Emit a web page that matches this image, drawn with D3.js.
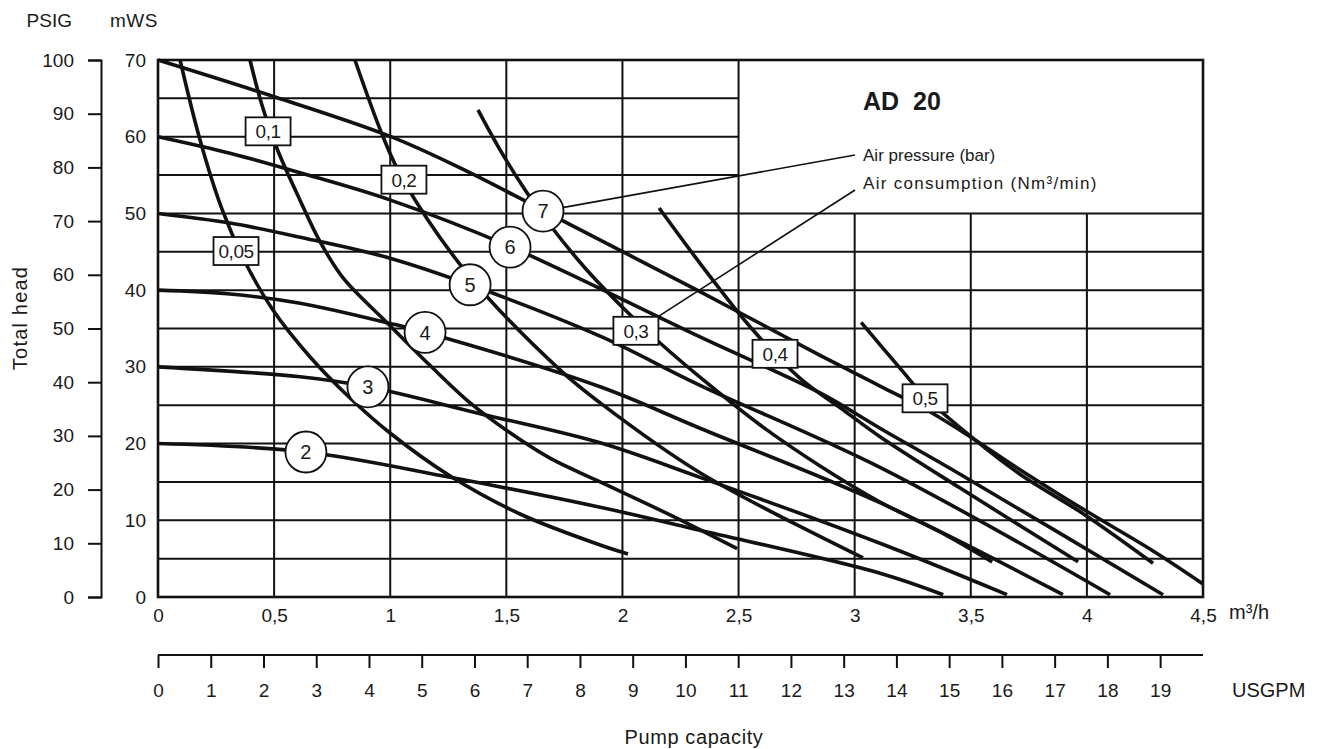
<!DOCTYPE html>
<html><head><meta charset="utf-8">
<script src="https://cdn.jsdelivr.net/npm/d3@7"></script>
<style>
body{margin:0;background:#fff;}
svg text{font-family:"Liberation Sans",Arial,Helvetica,sans-serif;fill:#1a1a1a;}
</style>
</head><body>
<svg id="chart" width="1325" height="749"></svg>
<script>
// ---------- DATA ----------
const mwsTicks = [0, 10, 20, 30, 40, 50, 60, 70];
const psigTicks = [0, 10, 20, 30, 40, 50, 60, 70, 80, 90, 100];
const flowTicks = [0, 0.5, 1, 1.5, 2, 2.5, 3, 3.5, 4, 4.5];
const flowTickLabels = ["0", "0,5", "1", "1,5", "2", "2,5", "3", "3,5", "4", "4,5"];
const gpmTicks = [0,1,2,3,4,5,6,7,8,9,10,11,12,13,14,15,16,17,18,19];

// Air pressure curves (bar): [capacity m3/h, head mWS]
const pressureNames = ["2", "3", "4", "5", "6", "7"];
const curveP2 = [[0,20],[0.637,18.9],[1.258,15.6],[1.904,11.7],[2.334,8.7],[3.109,3.1],[3.381,0.3]];
const curveP3 = [[0,30],[0.612,28.7],[0.904,27.4],[1.387,23.9],[1.904,20.1],[2.334,15.6],[3.109,7.0],[3.656,0.3]];
const curveP4 = [[0,40],[0.310,39.5],[0.612,38.3],[0.995,35.7],[1.150,34.5],[1.904,27.4],[2.334,22.0],[3.109,12.3],[3.897,0.3]];
const curveP5 = [[0,50],[0.310,48.75],[0.612,46.9],[0.995,44.2],[1.344,40.7],[1.904,34.0],[2.334,27.6],[3.109,16.9],[4.10,0.3]];
const curveP6 = [[0,60],[0.310,57.85],[0.612,55.3],[0.995,51.8],[1.507,45.8],[2.334,33.9],[2.851,26.6],[3.109,22.0],[3.454,16.0],[4.328,0.3]];
const curveP7 = [[0,70],[0.504,65.18],[0.995,60.1],[1.301,55.93],[1.581,51.62],[1.744,49.02],[2.334,39.8],[2.851,31.5],[3.109,27.5],[3.303,24.5],[3.497,20.9],[3.712,16.6],[3.992,11.3],[4.285,6.0],[4.5,1.7]];
const pressureLabelAt = [[0.637,18.9],[0.904,27.4],[1.150,34.5],[1.344,40.7],[1.516,45.6],[1.658,50.3]];

// Air consumption curves (Nm3/min)
const airNames = ["0,05", "0,1", "0,2", "0,3", "0,4", "0,5"];
const curveA005 = [[0.095,70],[0.181,59.58],[0.276,50.52],[0.375,43.67],[0.495,37.41],[0.655,31.29],[0.827,25.94],[0.999,21.38],[1.258,15.77],[1.559,10.82],[1.904,6.78],[2.024,5.61]];
const curveA01 = [[0.396,70],[0.448,64.1],[0.512,58.5],[0.612,51.7],[0.698,46.3],[0.797,41.6],[0.995,35.5],[1.171,30.2],[1.344,25.3],[1.516,21.4],[1.688,18.1],[1.904,15.0],[2.205,10.7],[2.494,6.3]];
const curveA02 = [[0.848,70],[0.969,60.0],[1.055,54.4],[1.331,42.2],[1.731,29.6],[1.904,25.3],[2.334,16.2],[3.036,5.1]];
const curveA03 = [[1.378,63.49],[1.473,58.28],[1.581,53.06],[1.688,48.49],[1.839,42.89],[1.990,38.07],[2.162,33.11],[2.364,27.90],[2.593,22.42],[2.851,17.08],[3.109,12.38],[3.368,8.47],[3.592,4.56]];
const curveA04 = [[2.158,50.7],[2.334,43.5],[2.562,34.8],[2.765,28.5],[2.950,24.4],[3.109,20.9],[3.454,14.2],[3.962,4.6]];
const curveA05 = [[3.028,35.8],[3.196,29.8],[3.303,26.1],[3.497,21.0],[3.712,16.0],[3.992,10.7],[4.285,4.4]];
const airLabelAt = [[0.336,45.1],[0.474,60.7],[1.059,54.4],[2.058,34.7],[2.657,31.7],[3.303,25.9]];

const pressureCurves = [curveP2, curveP3, curveP4, curveP5, curveP6, curveP7];
const airCurves = [curveA005, curveA01, curveA02, curveA03, curveA04, curveA05];

// ---------- SCALES ----------
const svg = d3.select("#chart");
const x = d3.scaleLinear().domain([0, 4.5]).range([158, 1203]);
const y = d3.scaleLinear().domain([0, 70]).range([597, 60]);
const yPsi = d3.scaleLinear().domain([0, 100]).range([597, 60]);
const GPM_TO_M3H = 0.227125;
const xGpm = d3.scaleLinear().domain([0, 4.5 / GPM_TO_M3H]).range([158, 1203]);
const ink = "#111";

// ---------- GRID ----------
const grid = svg.append("g").attr("stroke", ink).attr("stroke-width", 2);
d3.range(5, 70, 5).forEach(v => {
  grid.append("line").attr("x1", x(0)).attr("x2", v > 50 ? x(2.5) : x(4.5))
    .attr("y1", y(v)).attr("y2", y(v));
});
flowTicks.slice(1, -1).forEach(v => {
  grid.append("line").attr("x1", x(v)).attr("x2", x(v))
    .attr("y1", y(0)).attr("y2", v > 2.5 ? y(50) : y(70));
});
svg.append("rect").attr("x", x(0)).attr("y", y(70)).attr("width", x(4.5) - x(0)).attr("height", y(0) - y(70))
  .attr("fill", "none").attr("stroke", ink).attr("stroke-width", 2.6);

// ---------- CURVES ----------
const line = d3.line().x(d => x(d[0])).y(d => y(d[1])).curve(d3.curveCatmullRom.alpha(0.5));
const curvesG = svg.append("g").attr("fill", "none").attr("stroke", ink).attr("stroke-width", 3.6).attr("stroke-linecap", "butt");
pressureCurves.forEach(c => curvesG.append("path").attr("d", line(c)));
airCurves.forEach(c => curvesG.append("path").attr("d", line(c)));

// ---------- LEGEND / LEADERS ----------
const legX = x(3.036);
svg.append("text").attr("x", legX).attr("y", 110).attr("font-size", 25).attr("font-weight", "bold")
  .style("white-space", "pre").text("AD  20");
svg.append("text").attr("x", legX).attr("y", 161).attr("font-size", 17).text("Air pressure (bar)");
svg.append("text").attr("x", legX).attr("y", 189).attr("font-size", 17).attr("letter-spacing", 1.3).text("Air consumption (Nm³/min)");
const leaders = svg.append("g").attr("stroke", ink).attr("stroke-width", 1.6);
leaders.append("line").attr("x1", x(pressureLabelAt[5][0])).attr("y1", y(pressureLabelAt[5][1]))
  .attr("x2", legX - 8).attr("y2", 155);
leaders.append("line").attr("x1", x(airLabelAt[3][0])).attr("y1", y(airLabelAt[3][1]))
  .attr("x2", legX - 8).attr("y2", 190);

// ---------- LABELS ON CURVES ----------
const pl = svg.append("g");
pressureLabelAt.forEach((p, i) => {
  const g = pl.append("g").attr("transform", `translate(${x(p[0])},${y(p[1])})`);
  g.append("circle").attr("r", 20.5).attr("fill", "#fff").attr("stroke", ink).attr("stroke-width", 1.8);
  g.append("text").attr("text-anchor", "middle").attr("dy", "0.36em").attr("font-size", 20).text(pressureNames[i]);
});
const al = svg.append("g");
airLabelAt.forEach((p, i) => {
  const w = 45, h = 28;
  const g = al.append("g").attr("transform", `translate(${x(p[0])},${y(p[1])})`);
  g.append("rect").attr("x", -w / 2).attr("y", -h / 2).attr("width", w).attr("height", h)
    .attr("fill", "#fff").attr("stroke", ink).attr("stroke-width", 1.8);
  g.append("text").attr("text-anchor", "middle").attr("dy", "0.36em").attr("font-size", 19)
    .attr("letter-spacing", -0.5).text(airNames[i]);
});

// ---------- AXES ----------
const styleText = sel => sel.selectAll("text").attr("font-size", 19).attr("font-family", null).attr("fill", "#1a1a1a");
// PSIG axis
const psiAxis = d3.axisLeft(yPsi).tickValues(psigTicks).tickSize(13).tickPadding(14);
const gPsi = svg.append("g").attr("transform", "translate(101,0)").call(psiAxis);
gPsi.select(".domain").attr("stroke", ink).attr("stroke-width", 2);
gPsi.selectAll(".tick line").attr("stroke", ink).attr("stroke-width", 2);
styleText(gPsi);

// mWS axis (labels only)
const mwsAxis = d3.axisLeft(y).tickValues(mwsTicks).tickSize(0).tickPadding(12);
const gM = svg.append("g").attr("transform", `translate(${x(0)},0)`).call(mwsAxis);
gM.select(".domain").remove();
styleText(gM);

// m3/h axis (labels only)
const flowAxis = d3.axisBottom(x).tickValues(flowTicks).tickFormat((d, i) => flowTickLabels[i]).tickSize(0).tickPadding(12);
const gF = svg.append("g").attr("transform", `translate(0,${y(0)})`).call(flowAxis);
gF.select(".domain").remove();
styleText(gF);

// USGPM axis
const gpmAxis = d3.axisBottom(xGpm).tickValues(gpmTicks).tickSize(13).tickPadding(16);
const gG = svg.append("g").attr("transform", "translate(0,655)").call(gpmAxis);
gG.select(".domain").attr("d", `M${x(0)},0H${x(4.5)}`).attr("stroke", ink).attr("stroke-width", 2);
gG.selectAll(".tick line").attr("stroke", ink).attr("stroke-width", 2);
styleText(gG);

// Axis titles
svg.append("text").attr("x", 72).attr("y", 27).attr("text-anchor", "end").attr("font-size", 19).text("PSIG");
svg.append("text").attr("x", 110).attr("y", 27).attr("font-size", 19).attr("letter-spacing", 0.5).text("mWS");
svg.append("text").attr("transform", "translate(27,318) rotate(-90)").attr("text-anchor", "middle")
  .attr("font-size", 20).attr("letter-spacing", 1.2).text("Total head");
svg.append("text").attr("x", 1229).attr("y", 619).attr("font-size", 20).text("m³/h");
svg.append("text").attr("x", 1232).attr("y", 697).attr("font-size", 20).text("USGPM");
svg.append("text").attr("x", 694).attr("y", 744).attr("text-anchor", "middle").attr("font-size", 20)
  .attr("letter-spacing", 0.6).text("Pump capacity");
</script>
</body></html>
